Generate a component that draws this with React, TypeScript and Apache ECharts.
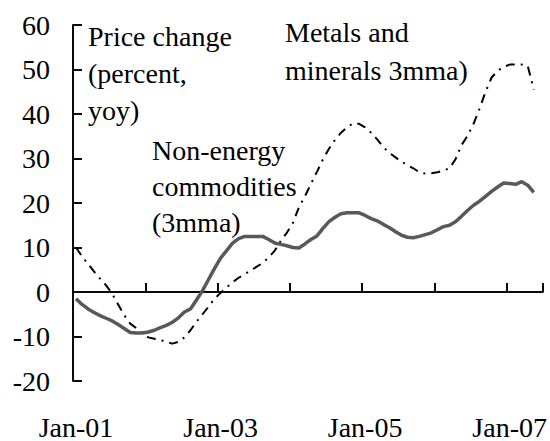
import React, { useEffect, useRef } from "react";
import * as echarts from "echarts";

const MONTHS = ["Jan", "Feb", "Mar", "Apr", "May", "Jun", "Jul", "Aug", "Sep", "Oct", "Nov", "Dec"];
const YEARS = ["01", "02", "03", "04", "05", "06", "07"];
const N_CATEGORIES = 78; // Jan-01 .. Jun-07

const categories: string[] = [];
for (const y of YEARS) {
  for (const m of MONTHS) {
    if (categories.length < N_CATEGORIES) categories.push(`${m}-${y}`);
  }
}

// Non-energy commodities (3mma), percent yoy, Jan-01 .. May-07
const nonEnergy = [
  -1.5, -2.8, -3.8, -4.6, -5.3, -5.9, -6.5, -7.3, -8.2, -9.1, -9.2, -9.2,
  -9.0, -8.6, -8.0, -7.5, -6.8, -5.8, -4.5, -3.8, -1.8, 0.3, 2.8, 5.3,
  7.6, 9.3, 11.0, 12.0, 12.5, 12.5, 12.5, 12.5, 11.8, 11.0, 10.7, 10.4,
  10.0, 9.9, 10.8, 11.8, 12.6, 14.3, 15.8, 16.8, 17.6, 17.8, 17.8, 17.8,
  17.2, 16.5, 16.0, 15.2, 14.5, 13.6, 12.8, 12.3, 12.2, 12.5, 12.9, 13.3,
  14.0, 14.7, 15.0, 15.8, 17.0, 18.3, 19.5, 20.4, 21.5, 22.6, 23.6, 24.5,
  24.4, 24.2, 24.8, 24.0, 22.4,
];

// Metals and minerals (3mma), percent yoy, Jan-01 .. May-07
const metals = [
  10.0, 8.0, 6.3, 4.6, 3.0, 1.5, -0.4, -2.8, -5.2, -7.1, -8.1, -9.2,
  -10.2, -10.5, -10.8, -11.2, -11.6, -11.2, -10.2, -8.6, -6.7, -5.0, -3.3, -1.5,
  -0.2, 1.0, 2.2, 3.2, 4.0, 4.8, 5.7, 6.5, 7.8, 9.3, 11.5, 13.3,
  15.5, 19.0, 21.5, 24.3, 27.0, 29.8, 32.2, 34.2, 35.8, 37.0, 37.9, 37.8,
  37.0, 35.8, 34.3, 32.6, 31.3, 30.3, 29.3, 28.5, 27.8, 26.9, 26.6, 26.7,
  26.9, 27.3, 27.8, 29.8, 33.0, 35.1, 37.8, 41.2, 45.0, 48.2, 49.7, 50.6,
  51.1, 51.1, 51.1, 50.8, 45.5,
];

const FONT = "Liberation Serif";
const FS = 28;
const INK = "#0a0a0a";

export default function App() {
  const ref = useRef<HTMLDivElement>(null);
  useEffect(() => {
    if (!ref.current) return;
    const chart = echarts.init(ref.current, null, { renderer: "svg" });
    chart.setOption({
      animation: false,
      backgroundColor: "#ffffff",
      textStyle: { fontFamily: FONT },
      grid: { left: 73, right: 7, top: 25, bottom: 59.3, containLabel: false },
      xAxis: [
        {
          type: "category",
          position: "top",
          data: categories,
          boundaryGap: true,
          axisLine: { show: true, onZero: true, lineStyle: { color: INK, width: 2 } },
          axisTick: { show: true, inside: false, interval: 11, length: 9, lineStyle: { color: INK, width: 2, opacity: 1 } },
          axisLabel: { show: false },
          splitLine: { show: false },
        },
        {
          type: "category",
          position: "bottom",
          data: categories,
          boundaryGap: true,
          axisLine: { show: false, onZero: false },
          axisTick: { show: false },
          axisLabel: {
            show: true,
            interval: 23,
            margin: 32,
            fontSize: FS,
            lineHeight: FS,
            fontFamily: FONT,
            color: "#000",
          },
          splitLine: { show: false },
        },
      ],
      yAxis: {
        type: "value",
        min: -20,
        max: 60,
        interval: 10,
        axisLine: { show: true, onZero: false, lineStyle: { color: INK, width: 2 } },
        axisTick: { show: true, inside: true, length: 9, lineStyle: { color: INK, width: 2, opacity: 1 } },
        axisLabel: { margin: 23, fontSize: FS, fontFamily: FONT, color: "#000" },
        splitLine: { show: false },
      },
      series: [
        {
          name: "Non-energy commodities (3mma)",
          type: "line",
          xAxisIndex: 0,
          data: nonEnergy,
          symbol: "none",
          lineStyle: { color: "#595959", width: 3.5, type: "solid" },
          z: 3,
        },
        {
          name: "Metals and minerals 3mma)",
          type: "line",
          xAxisIndex: 0,
          data: metals,
          symbol: "none",
          lineStyle: { color: "#000", width: 2, type: [9, 6, 2, 6] },
          z: 2,
        },
      ],
      graphic: [
        {
          type: "text",
          left: 88,
          top: 18,
          style: {
            text: "Price change\n(percent,\nyoy)",
            fontSize: FS,
            fontFamily: FONT,
            lineHeight: 37,
            fill: "#000",
          },
        },
        {
          type: "text",
          left: 285,
          top: 13,
          style: {
            text: "Metals and\nminerals 3mma)",
            fontSize: FS,
            fontFamily: FONT,
            lineHeight: 38,
            fill: "#000",
          },
        },
        {
          type: "text",
          left: 152,
          top: 132,
          style: {
            text: "Non-energy\ncommodities\n(3mma)",
            fontSize: FS,
            fontFamily: FONT,
            lineHeight: 36,
            fill: "#000",
          },
        },
      ],
    });
    return () => chart.dispose();
  }, []);
  return (
    <div
      ref={ref}
      style={{ position: "fixed", left: 0, top: 0, width: 550, height: 441, background: "#fff" }}
    />
  );
}
